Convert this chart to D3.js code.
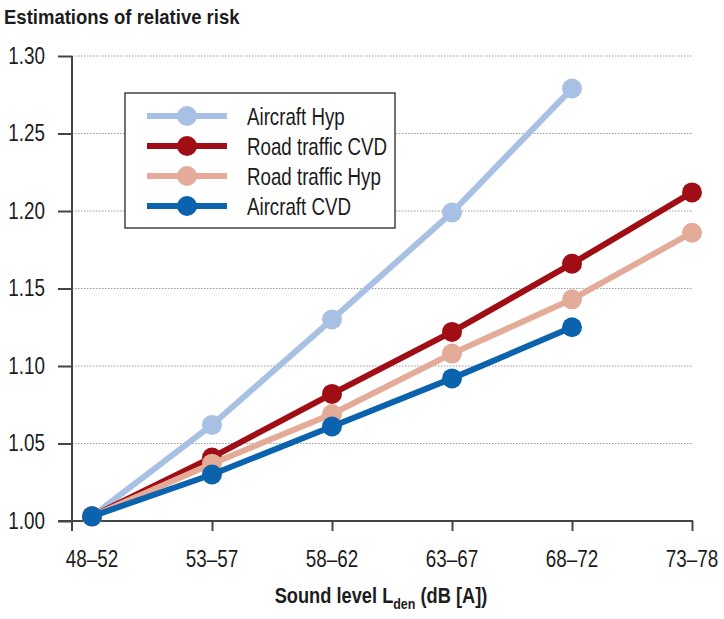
<!DOCTYPE html>
<html><head><meta charset="utf-8">
<script src="https://cdn.jsdelivr.net/npm/d3@7"></script>
<style>
body{margin:0;background:#fff;}
text{font-family:"Liberation Sans",Arial,sans-serif;}
</style></head>
<body><svg id="chart" width="724" height="619"></svg>
<script>
const categories = ["48–52","53–57","58–62","63–67","68–72","73–78"];
const seriesNames = ["Aircraft Hyp","Road traffic CVD","Road traffic Hyp","Aircraft CVD"];
const aircraftHyp = [1.003, 1.062, 1.130, 1.199, 1.279];
const roadCVD     = [1.003, 1.041, 1.082, 1.122, 1.166, 1.212];
const roadHyp     = [1.003, 1.037, 1.069, 1.108, 1.143, 1.186];
const aircraftCVD = [1.003, 1.030, 1.061, 1.092, 1.125];
const yTicks = [1.00,1.05,1.10,1.15,1.20,1.25,1.30];
const colors = ["#a7c0e3","#a10d14","#e4ab98","#0a63ac"];
const seriesValues = [aircraftHyp, roadCVD, roadHyp, aircraftCVD];

const svg = d3.select("#chart");
const x = d3.scaleLinear().domain([-1/6, 5]).range([72, 692]);
const y = d3.scaleLinear().domain([1.0, 1.30]).range([521, 56]);
const axisCol = "#444";
const txtCol = "#1c1c1c";
const sxTick = 0.82, sxLeg = 0.78;

// title
svg.append("g").attr("transform","translate(4,24) scale(0.95,1)")
  .append("text").attr("font-size",19.5).attr("font-weight","bold")
  .attr("fill",txtCol).text("Estimations of relative risk");

// gridlines
svg.append("g").selectAll("line").data(yTicks.slice(1)).join("line")
  .attr("x1",72).attr("x2",692).attr("y1",d=>y(d)).attr("y2",d=>y(d))
  .attr("stroke","#9a9a9a").attr("stroke-width",1).attr("stroke-dasharray","1.5,1.5");

// y axis
const yAxis = d3.axisLeft(y).tickValues(yTicks).tickFormat(d3.format(".2f")).tickSize(14).tickPadding(13);
const gy = svg.append("g").attr("transform","translate(72,0)").call(yAxis);
gy.select(".domain").remove();
gy.selectAll(".tick line").attr("stroke",axisCol).attr("stroke-width",2);
gy.selectAll(".tick text").attr("font-size",23).attr("fill",txtCol).attr("font-family",null)
  .attr("x",0).attr("transform",`translate(-27,0) scale(${sxTick},1)`);
svg.append("line").attr("x1",72).attr("x2",72).attr("y1",56).attr("y2",531).attr("stroke",axisCol).attr("stroke-width",2);

// x axis
svg.append("line").attr("x1",58).attr("x2",693).attr("y1",521).attr("y2",521).attr("stroke",axisCol).attr("stroke-width",2);
const xAxis = d3.axisBottom(x).tickValues([1,2,3,4,5]).tickSize(10).tickFormat("");
const gx = svg.append("g").attr("transform","translate(0,521)").call(xAxis);
gx.select(".domain").remove();
gx.selectAll(".tick line").attr("stroke",axisCol).attr("stroke-width",2);
svg.append("g").selectAll("g").data(categories).join("g")
  .attr("transform",(d,i)=>`translate(${x(i)},567) scale(${sxTick},1)`)
  .append("text").attr("text-anchor","middle")
  .attr("font-size",23).attr("fill",txtCol).text(d=>d);

// x title
const xt = svg.append("g").attr("transform","translate(381,603) scale(0.83,1)")
  .append("text").attr("text-anchor","middle")
  .attr("font-size",22).attr("font-weight","bold").attr("fill",txtCol);
xt.append("tspan").text("Sound level L");
xt.append("tspan").attr("font-size",15).attr("dy",6).text("den");
xt.append("tspan").attr("dy",-6).text(" (dB [A])");

// series
const line = d3.line().x((d,i)=>x(i)).y(d=>y(d));
seriesValues.forEach((vals,k)=>{
  const g = svg.append("g");
  g.append("path").datum(vals).attr("d",line).attr("fill","none")
    .attr("stroke",colors[k]).attr("stroke-width",6);
  g.selectAll("circle").data(vals).join("circle")
    .attr("cx",(d,i)=>x(i)).attr("cy",d=>y(d)).attr("r",10).attr("fill",colors[k]);
});

// legend
const lg = svg.append("g");
lg.append("rect").attr("x",125).attr("y",93).attr("width",270).attr("height",135)
  .attr("fill","#fff").attr("stroke",axisCol).attr("stroke-width",1.5);
seriesNames.forEach((n,k)=>{
  const yy = 116 + k*30;
  lg.append("line").attr("x1",147).attr("x2",227).attr("y1",yy).attr("y2",yy)
    .attr("stroke",colors[k]).attr("stroke-width",6);
  lg.append("circle").attr("cx",187).attr("cy",yy).attr("r",10).attr("fill",colors[k]);
  lg.append("g").attr("transform",`translate(247,${yy+9}) scale(${sxLeg},1)`)
    .append("text").attr("font-size",24).attr("fill",txtCol).text(n);
});
</script></body></html>
